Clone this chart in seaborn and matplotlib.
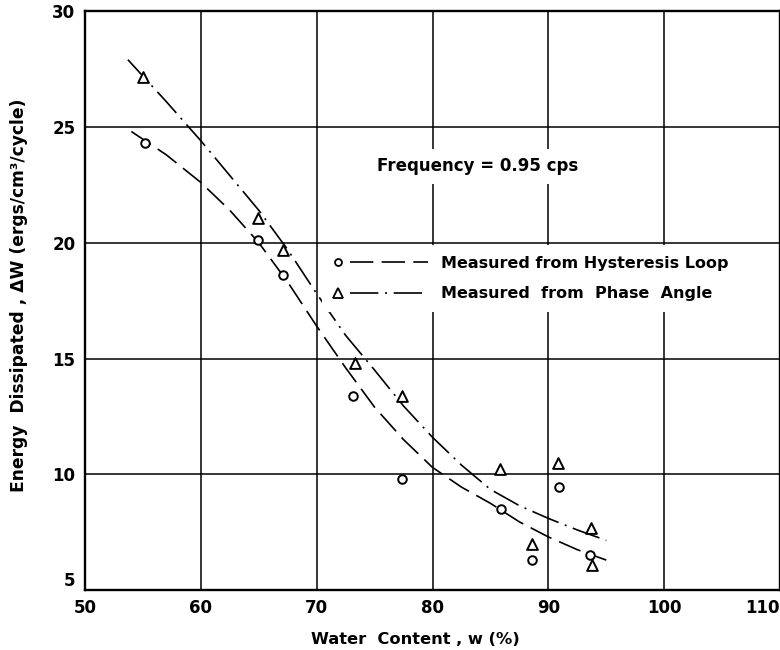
import matplotlib
matplotlib.use("Agg")
import matplotlib.pyplot as plt
import seaborn as sns
from matplotlib.lines import Line2D
from matplotlib.legend_handler import HandlerBase

# ---- data ----
# measured points, hysteresis loop (circles)
hyst_w = [55.2, 64.9, 67.1, 73.1, 77.4, 85.9, 88.6, 90.9, 93.6]
hyst_dw = [24.3, 20.1, 18.6, 13.4, 9.8, 8.5, 6.3, 9.45, 6.5]

# measured points, phase angle (triangles)
phase_w = [55.0, 64.9, 67.1, 73.3, 77.4, 85.8, 88.6, 90.8, 93.7, 93.8]
phase_dw = [27.15, 21.05, 19.7, 14.8, 13.4, 10.25, 7.0, 10.5, 7.7, 6.1]

# fitted curves drawn through the data
hyst_curve_w = [54.0, 57.0, 60.0, 62.5, 65.0, 67.5, 70.0, 72.5, 75.0, 77.5, 80.0, 82.5, 85.0, 87.5, 90.0, 92.5, 95.0]
hyst_curve_dw = [24.8, 23.8, 22.6, 21.4, 20.0, 18.3, 16.4, 14.6, 12.9, 11.5, 10.3, 9.45, 8.75, 7.95, 7.3, 6.75, 6.3]

phase_curve_w = [53.7, 57.0, 60.0, 62.5, 65.0, 67.5, 70.0, 72.5, 75.0, 77.5, 80.0, 82.5, 85.0, 87.5, 90.0, 92.5, 95.0]
phase_curve_dw = [27.9, 26.1, 24.4, 22.9, 21.4, 19.7, 17.8, 16.0, 14.5, 12.95, 11.6, 10.4, 9.35, 8.65, 8.1, 7.6, 7.15]

xticks = [50, 60, 70, 80, 90, 100, 110]
yticks = [5, 10, 15, 20, 25, 30]

DASHED = (0, (14, 5))
DASHDOT = (0, (17, 4, 1.2, 4))

sns.set_style("white")
plt.rcParams["font.family"] = ["DejaVu Sans"]
plt.rcParams["font.weight"] = "bold"
for k in ["text.color", "axes.labelcolor", "xtick.color", "ytick.color"]:
    plt.rcParams[k] = "black"


class MarkerThenLine(HandlerBase):
    # legend key: the marker on the left, then the curve's line style
    def create_artists(self, legend, orig_handle, xdescent, ydescent,
                       width, height, fontsize, trans):
        marker, ms, style = orig_handle
        y = height / 2 - ydescent
        x0 = -xdescent
        m = Line2D([x0 + 3], [y], marker=marker, ls="none", mfc="white",
                   mec="black", ms=ms, mew=1.3, transform=trans)
        ln = Line2D([x0 + 12, x0 + width], [y, y], color="black", lw=1.2,
                    ls=style, transform=trans)
        return [m, ln]


fig = plt.figure(figsize=(7.8, 6.5), dpi=100)
ax = fig.add_axes([0.109, 0.092, 0.891, 0.891])

# curves
sns.lineplot(x=hyst_curve_w, y=hyst_curve_dw, ax=ax, color="black", lw=1.2,
             linestyle=DASHED, sort=False)
sns.lineplot(x=phase_curve_w, y=phase_curve_dw, ax=ax, color="black", lw=1.2,
             linestyle=DASHDOT, sort=False)

# points
sns.scatterplot(x=hyst_w, y=hyst_dw, ax=ax, marker="o", s=38,
                facecolor="white", edgecolor="black", linewidth=1.4, zorder=5)
sns.scatterplot(x=phase_w, y=phase_dw, ax=ax, marker="^", s=60,
                facecolor="white", edgecolor="black", linewidth=1.4, zorder=5)

ax.set_xlim(50, 110)
ax.set_ylim(5, 30)
ax.set_xticks(xticks)
ax.set_yticks(yticks)
ax.grid(True, color="black", lw=1.1)
ax.set_axisbelow(True)
for s in ax.spines.values():
    s.set_color("black")
    s.set_linewidth(1.7)
ax.tick_params(length=0, labelsize=12)
ax.tick_params(axis="x", pad=6)
ax.tick_params(axis="y", pad=7)
for lab in ax.get_xticklabels() + ax.get_yticklabels():
    lab.set_fontweight("bold")
ax.get_yticklabels()[0].set_va("bottom")
ax.get_xticklabels()[-1].set_ha("right")  # keep "110" inside the image

ax.set_xlabel("Water  Content , w (%)", fontsize=11.7, fontweight="bold")
ax.xaxis.set_label_coords(0.476, -0.072)
ax.set_ylabel("Energy  Dissipated , \u0394W (ergs/cm\u00b3/cycle)", fontsize=12.3,
              fontweight="bold")
ax.yaxis.set_label_coords(-0.082, 0.51)

ax.text(83.9, 23.3, "Frequency = 0.95 cps", fontsize=12, fontweight="bold",
        ha="center", va="center", zorder=6,
        bbox=dict(facecolor="white", edgecolor="none", pad=6))

handles = [("o", 5, DASHED), ("^", 6.5, DASHDOT)]
leg = ax.legend(handles, ["Measured from Hysteresis Loop", "Measured  from  Phase  Angle"],
                handler_map={tuple: MarkerThenLine()},
                loc="upper left", bbox_to_anchor=(0.33, 0.61), frameon=True,
                fontsize=11.5, handlelength=5.9, handletextpad=0.85,
                borderpad=0.7, labelspacing=0.95)
leg.get_frame().set_facecolor("white")
leg.get_frame().set_edgecolor("none")
leg.get_frame().set_alpha(1)
leg.set_zorder(6)
for t in leg.get_texts():
    t.set_fontweight("bold")

fig.savefig("out.png", dpi=100)
